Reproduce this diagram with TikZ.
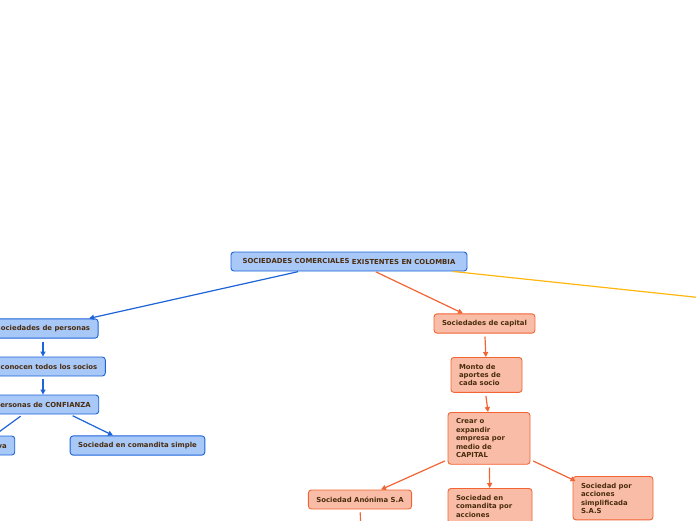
\documentclass[tikz,border=0pt]{standalone}
\usepackage{fontspec}
\setmainfont{DejaVu Sans}
\usepackage{xcolor}
\usetikzlibrary{positioning,arrows.meta,calc}
\definecolor{txt}{HTML}{4A2C0F}
\definecolor{bfill}{HTML}{A8C8F8}
\definecolor{bline}{HTML}{1C64D8}
\definecolor{sfill}{HTML}{F9BDA7}
\definecolor{sline}{HTML}{F26434}
\definecolor{yline}{HTML}{FFB70F}
\tikzset{
  >={Triangle[length=5pt,width=5pt]},
  topic/.style={draw, line width=0.9pt, rounded corners=3pt, inner xsep=8pt, inner ysep=6.3pt,
                minimum height=19pt, text=txt, font=\fontsize{6.9}{8.5}\selectfont\bfseries},
  pers/.style={topic, fill=bfill, draw=bline},
  capi/.style={topic, fill=sfill, draw=sline},
  multi/.style={align=left, anchor=north},
  bl/.style={->, line width=1.2pt, draw=bline, shorten <=3pt},
  ol/.style={->, line width=1.2pt, draw=sline, shorten <=3pt},
}
\begin{document}
\begin{tikzpicture}[x=1pt,y=-1pt]
  \useasboundingbox (0,0) rectangle (696,520);
  \fill[white] (0,0) rectangle (696,520);
  \clip (0,0) rectangle (696,520);
  % root
  \node[pers,minimum width=236pt] (root) at (349,261.5){SOCIEDADES COMERCIALES \raisebox{-0.8pt}{EXISTENTES EN COLOMBIA}};
  % sociedades de personas
  \node[pers] (sper) at (43,328.5){Sociedades de personas};
  \node[pers] (conoc) at (43,366.5){Se conocen todos los socios};
  \node[pers] (conf) at (43,404.5){Personas de CONFIANZA};
  \node[pers] (colec) at (-29.5,445.5){Sociedad colectiva};
  \node[pers] (csimp) at (137.5,445.5){Sociedad en comandita simple};
  % sociedades de capital
  \node[capi] (scap) at (484.5,323.5){Sociedades de capital};
  \node[capi,multi,text width=55pt] (monto) at (486.5,357){Monto de\\aportes de\\cada socio};
  \node[capi,multi,text width=66pt] (crear) at (489,412){Crear o\\expandir\\empresa por\\medio de\\CAPITAL};
  \node[capi] (anon) at (360,499.5){Sociedad Anónima S.A};
  \node[capi,multi,text width=68pt] (cacc) at (490,488){Sociedad en\\comandita por\\acciones};
  \node[capi,multi,text width=64pt] (sas) at (613,476){Sociedad por\\acciones\\simplificada\\S.A.S};
  \coordinate (anonkid) at (361,545);
  \coordinate (otro) at (760,304);
  % connectors
  \draw[bl,shorten <=1pt]([xshift=-50pt]root.south)--([xshift=46pt]sper.north);
  \draw[bl](sper)--(conoc);\draw[bl](conoc)--(conf);
  \draw[bl]([xshift=-20pt]conf.south)--([xshift=23.5pt]colec.north);
  \draw[bl]([xshift=27pt]conf.south)--([xshift=-24.5pt]csimp.north);
  \draw[ol,shorten <=1pt]([xshift=26pt]root.south)--([xshift=-21.5pt]scap.north);
  \draw[ol](scap)--(monto);\draw[ol]([xshift=-1pt]monto.south)--([xshift=-1pt]crear.north);
  \draw[ol]([yshift=5pt]crear.south west)--([xshift=21pt]anon.north);
  \draw[ol](crear)--(cacc);
  \draw[ol]([yshift=5pt]crear.south east)--([xshift=3pt,yshift=-5pt]sas.north west);
  \draw[ol,-](anon)--(anonkid);
  \draw[line width=1.2pt,draw=yline]([xshift=104pt]root.south)--(otro);
\end{tikzpicture}
\end{document}
